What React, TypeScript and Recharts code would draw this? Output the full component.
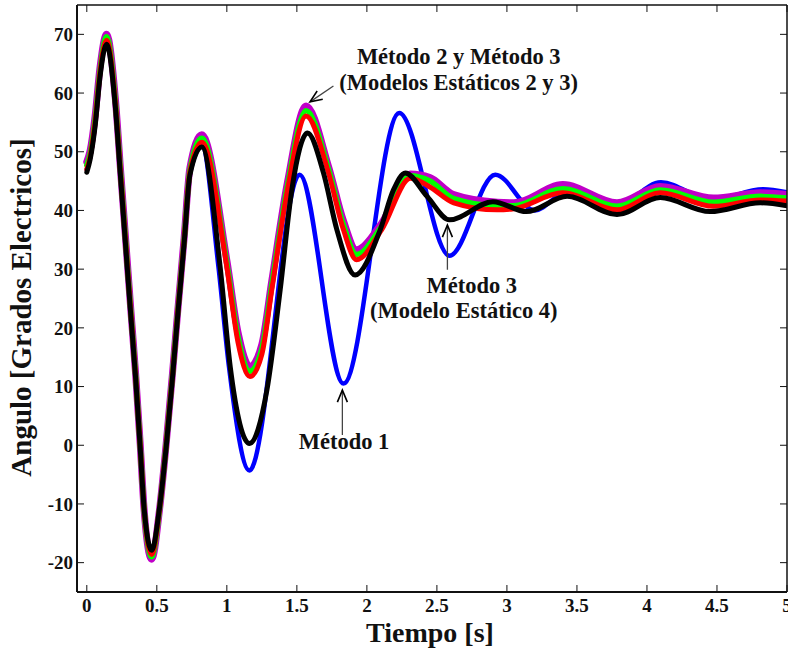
import React from 'react';
import { LineChart, Line, XAxis, YAxis, ReferenceDot, ReferenceLine } from 'recharts';

const SERIF = "'Liberation Serif', 'Times New Roman', Times, serif";

const xTicks = [0, 0.5, 1, 1.5, 2, 2.5, 3, 3.5, 4, 4.5, 5];
const yTicks = [-20, -10, 0, 10, 20, 30, 40, 50, 60, 70];

// Método 1 (blue)
const bT = [0, 0.024, 0.059, 0.095, 0.141, 0.204, 0.24, 0.276, 0.312, 0.349, 0.381, 0.409, 0.463, 0.519, 0.567, 0.611, 0.652, 0.695, 0.736, 0.821, 0.94, 1.015, 1.161, 1.519, 1.833, 2.231, 2.59, 2.917, 3.2, 3.42, 3.77, 4.1, 4.46, 4.83, 5.0];
const bV = [47.0, 49.0, 54.8, 63.4, 68.8, 58.0, 46.3, 34.7, 23.0, 11.4, -0.2, -10.8, -18.4, -10.8, -0.2, 11.4, 23.0, 34.5, 46.1, 51.0, 30.4, 13.4, -4.3, 46.1, 10.5, 56.6, 32.3, 46.1, 40.0, 43.0, 40.6, 44.8, 41.8, 43.6, 43.1];

// magenta / green / red share the same time samples
const mT = [0, 0.024, 0.059, 0.095, 0.141, 0.204, 0.24, 0.276, 0.312, 0.349, 0.381, 0.409, 0.463, 0.519, 0.567, 0.611, 0.652, 0.695, 0.736, 0.821, 1.0, 1.08, 1.165, 1.25, 1.321, 1.433, 1.566, 1.726, 1.833, 1.926, 2.105, 2.31, 2.45, 2.62, 2.93, 3.05, 3.4, 3.786, 4.095, 4.476, 4.81, 5.0];
const mV = [48.3, 50.2, 56.0, 64.5, 70.0, 59.0, 47.2, 35.5, 23.8, 12.0, 0.3, -10.9, -19.4, -11.0, 0.3, 12.0, 23.6, 35.3, 47.2, 52.9, 31.5, 19.2, 13.4, 17.2, 28.0, 44.8, 57.8, 47.5, 38.2, 33.3, 37.8, 46.2, 45.6, 42.7, 41.4, 41.3, 44.4, 41.3, 44.1, 42.1, 43.0, 42.7];

const gT = mT;
const gV = [47.7, 49.7, 55.5, 64.0, 69.6, 58.6, 46.9, 35.2, 23.5, 11.8, 0.1, -10.9, -19.0, -11.0, 0.1, 11.8, 23.4, 35.0, 46.8, 52.3, 31.0, 18.4, 12.6, 16.4, 27.3, 44.2, 57.0, 47.0, 37.5, 32.5, 37.3, 45.9, 45.0, 42.0, 40.8, 40.8, 43.7, 40.7, 43.5, 41.4, 42.4, 42.1];

const rT = mT;
const rV = [47.0, 49.2, 55.0, 63.6, 69.0, 58.3, 46.6, 35.0, 23.3, 11.6, 0.0, -10.8, -18.6, -10.9, 0.0, 11.6, 23.2, 34.8, 46.5, 51.6, 30.4, 17.5, 11.7, 15.5, 26.5, 43.5, 56.1, 46.4, 36.7, 31.6, 36.7, 45.5, 44.0, 41.3, 40.1, 40.3, 43.0, 40.1, 43.0, 40.7, 41.8, 41.6];

// Método 3, Modelo Estático 4 (black)
const kT = [0, 0.024, 0.059, 0.095, 0.141, 0.204, 0.24, 0.276, 0.312, 0.349, 0.381, 0.409, 0.463, 0.519, 0.567, 0.611, 0.652, 0.695, 0.736, 0.821, 0.952, 1.024, 1.162, 1.286, 1.381, 1.464, 1.576, 1.69, 1.786, 1.916, 2.095, 2.19, 2.274, 2.43, 2.59, 2.9, 3.14, 3.43, 3.786, 4.095, 4.45, 4.81, 5.0];
const kV = [46.5, 48.7, 54.3, 62.9, 68.3, 57.6, 46.0, 34.4, 22.8, 11.3, -0.3, -10.7, -17.9, -10.7, -0.3, 11.3, 22.9, 34.4, 46.0, 50.8, 30.4, 13.4, 0.3, 9.4, 26.5, 43.5, 53.2, 46.4, 36.7, 29.0, 36.7, 43.5, 46.4, 42.4, 38.4, 41.5, 39.8, 42.4, 39.3, 42.2, 39.8, 41.3, 40.8];

// annotation anchors (data coordinates)
const noteText = ['Método 2 y Método 3', '(Modelos Estáticos 2 y 3)', 'Método 1', 'Método 3', '(Modelo Estático 4)'];
const noteT = [2.656, 2.655, 1.837, 2.749, 2.692];
const noteV = [64.9, 60.5, -0.6, 25.9, 21.6];

const arrowFromT = [1.761, 1.825, 2.575];
const arrowFromV = [61.2, 1.75, 29.9];
const arrowToT = [1.594, 1.825, 2.575];
const arrowToV = [58.5, 9.4, 37.5];

const toPoints = (ts: number[], vs: number[]) => ts.map((t, i) => ({ t, v: vs[i] }));

const series = [
  { key: 'blue', data: toPoints(bT, bV), color: '#0000FF', width: 4.5 },
  { key: 'magenta', data: toPoints(mT, mV), color: '#C000C8', width: 7 },
  { key: 'green', data: toPoints(gT, gV), color: '#00FF00', width: 5.5 },
  { key: 'red', data: toPoints(rT, rV), color: '#FF0000', width: 5 },
  { key: 'black', data: toPoints(kT, kV), color: '#000000', width: 5 },
];

const tickStyle = { fill: '#111', fontFamily: SERIF, fontWeight: 'bold', fontSize: 19 };

const XLabel = (p: any) => {
  const vb = p && p.viewBox ? p.viewBox : { x: 77, y: 592, width: 710, height: 57 };
  return (
    <text x={vb.x + vb.width / 2 - 2} y={vb.y + 50} textAnchor="middle" fontFamily={SERIF} fontWeight="bold" fontSize={28} fill="#111">
      Tiempo [s]
    </text>
  );
};

const YLabel = (p: any) => {
  const vb = p && p.viewBox ? p.viewBox : { x: 0, y: 5, width: 77, height: 587 };
  const cx = vb.x + 31;
  const cy = vb.y + vb.height / 2 + 9;
  return (
    <text x={cx} y={cy} transform={`rotate(-90 ${cx} ${cy})`} textAnchor="middle" fontFamily={SERIF} fontWeight="bold" fontSize={29} fill="#111">
      Angulo [Grados Electricos]
    </text>
  );
};

const makeTextShape = (label: string) => (p: any) => (
  <text x={p.cx} y={p.cy} textAnchor="middle" fontFamily={SERIF} fontWeight="bold" fontSize={22.5} fill="#111">
    {label}
  </text>
);

const ArrowShape = (p: any) => {
  const { x1, y1, x2, y2 } = p;
  const dx = x2 - x1;
  const dy = y2 - y1;
  const len = Math.hypot(dx, dy) || 1;
  const ux = dx / len;
  const uy = dy / len;
  const hl = 12;
  const hw = 5;
  const bx = x2 - ux * hl;
  const by = y2 - uy * hl;
  const lx = bx - uy * hw;
  const ly = by + ux * hw;
  const rx = bx + uy * hw;
  const ry = by - ux * hw;
  return (
    <g>
      <line x1={x1} y1={y1} x2={x2} y2={y2} stroke="#444" strokeWidth={1.3} />
      <polyline points={`${lx},${ly} ${x2},${y2} ${rx},${ry}`} fill="none" stroke="#000" strokeWidth={1.6} />
    </g>
  );
};

export default function App() {
  return (
    <div style={{ position: 'absolute', left: 0, top: 0, width: 788, height: 649, background: '#fff' }}>
      <LineChart width={788} height={649} margin={{ top: 4, right: 0, bottom: 0, left: 0 }}>
        <XAxis
          xAxisId="b"
          dataKey="t"
          type="number"
          domain={[-0.07, 5]}
          ticks={xTicks}
          interval={0}
          allowDataOverflow
          orientation="bottom"
          height={57}
          tickSize={-7}
          tickMargin={14}
          tick={tickStyle}
          tickLine={{ stroke: '#111', strokeWidth: 1 }}
          axisLine={{ stroke: '#111', strokeWidth: 2 }}
          label={{ content: XLabel }}
        />
        <XAxis
          xAxisId="t"
          dataKey="t"
          type="number"
          domain={[-0.07, 5]}
          ticks={xTicks}
          interval={0}
          allowDataOverflow
          orientation="top"
          height={1}
          tickSize={-7}
          tickFormatter={() => ''}
          tickLine={{ stroke: '#111', strokeWidth: 1 }}
          axisLine={{ stroke: '#111', strokeWidth: 1.5 }}
        />
        <YAxis
          yAxisId="l"
          type="number"
          domain={[-25, 75]}
          ticks={yTicks}
          interval={0}
          allowDataOverflow
          orientation="left"
          width={77}
          tickSize={-7}
          tickMargin={11}
          tick={tickStyle}
          tickLine={{ stroke: '#111', strokeWidth: 1 }}
          axisLine={{ stroke: '#111', strokeWidth: 2 }}
          label={{ content: YLabel }}
        />
        <YAxis
          yAxisId="r"
          type="number"
          domain={[-25, 75]}
          ticks={yTicks}
          interval={0}
          allowDataOverflow
          orientation="right"
          width={1}
          tickSize={-7}
          tickFormatter={() => ''}
          tickLine={{ stroke: '#111', strokeWidth: 1 }}
          axisLine={{ stroke: '#111', strokeWidth: 1.5 }}
        />
        {series.map((s) => (
          <Line
            key={s.key}
            xAxisId="b"
            yAxisId="l"
            data={s.data}
            dataKey="v"
            type="monotone"
            stroke={s.color}
            strokeWidth={s.width}
            strokeLinejoin="round"
            strokeLinecap="round"
            dot={false}
            activeDot={false}
            isAnimationActive={false}
          />
        ))}
        {arrowFromT.map((t, i) => (
          <ReferenceLine
            key={`arrow-${i}`}
            xAxisId="b"
            yAxisId="l"
            segment={[
              { x: t, y: arrowFromV[i] },
              { x: arrowToT[i], y: arrowToV[i] },
            ]}
            shape={ArrowShape}
            ifOverflow="visible"
          />
        ))}
        {noteText.map((txt, i) => (
          <ReferenceDot
            key={`note-${i}`}
            xAxisId="b"
            yAxisId="l"
            x={noteT[i]}
            y={noteV[i]}
            r={0}
            shape={makeTextShape(txt)}
            ifOverflow="visible"
          />
        ))}
      </LineChart>
    </div>
  );
}
